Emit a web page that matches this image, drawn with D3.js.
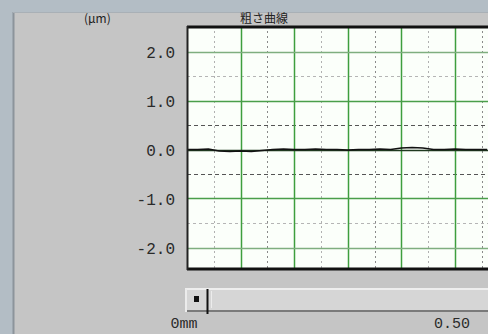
<!DOCTYPE html>
<html>
    <head>
        <meta charset="utf-8">
        <title>粗さ曲線</title>
        <style>
body {
    margin: 0;
    background: #b3bdc5;
}
svg {
    display: block;
}
.lbl {
    font-family: "Liberation Mono", "DejaVu Sans Mono", monospace;
    font-size: 16px;
    fill: #2a2a2a;
}
.title {
    font-family: "Noto Sans CJK JP", sans-serif;
    font-size: 12px;
    fill: #222;
}
        </style>
    </head>
    <body>
        <div id="chart"></div>
        <script src="https://d3js.org/d3.v7.min.js"></script>
        <script>

// values
const yTicks = [2.0, 1.0, 0.0, -1.0, -2.0]
const yTickLabels = ["2.0", "1.0", "0.0", "-1.0", "-2.0"]
const yHalf = [1.5, 0.5, -0.5, -1.5]
const xMajor = [0.1, 0.2, 0.3, 0.4, 0.5]
const xMinor = [0.05, 0.15, 0.25, 0.35, 0.45, 0.55]
const xLabels = ["0mm", "0.50"]
const xLabelPos = [0, 0.5]
const unitLabel = "(μm)"
const title = "粗さ曲線"

// trace, x in mm, height in μm (hugs zero)
const traceX = [0, 0.02, 0.04, 0.06, 0.08, 0.10, 0.12, 0.14, 0.16, 0.18, 0.20, 0.22,
    0.24, 0.26, 0.28, 0.30, 0.32, 0.34, 0.36, 0.38, 0.40, 0.42, 0.44, 0.46, 0.48, 0.50, 0.52, 0.54, 0.56]
const traceY = [0.0, 0.0, 0.01, -0.03, -0.04, -0.03, -0.04, -0.02, 0.0, 0.01, 0.0, 0.0,
    0.01, 0.0, 0.0, -0.01, 0.0, 0.0, 0.01, 0.0, 0.03, 0.04, 0.03, 0.0, 0.0, 0.01, 0.0, 0.0, 0.0]

const W = 488, H = 334
const plot = {left: 187, top: 26, right: 490, bottom: 270}

const svg = d3.select("#chart").append("svg")
    .attr("width", W)
    .attr("height", H)

// panel
svg.append("rect").attr("x", 0).attr("y", 0).attr("width", W).attr("height", H).attr("fill", "#b3bdc5")
svg.append("rect").attr("x", 13).attr("y", 12).attr("width", W).attr("height", H).attr("fill", "#c5c5c5")
svg.append("line").attr("x1", 13.5).attr("x2", 13.5).attr("y1", 12).attr("y2", H)
    .attr("stroke", "#8c949b").attr("stroke-width", 2)
svg.append("line").attr("x1", 13).attr("x2", W).attr("y1", 12.5).attr("y2", 12.5)
    .attr("stroke", "#a9b0b6").attr("stroke-width", 1)

// header texts
svg.append("text").attr("class", "title").attr("x", 84).attr("y", 23).text(unitLabel)
svg.append("text").attr("class", "title").attr("x", 240).attr("y", 23).text(title)

const x = d3.scaleLinear().domain([0, 0.5]).range([187, 455])
const y = d3.scaleLinear().domain([-2.5, 2.5]).range([272, 27])

svg.append("defs").append("clipPath").attr("id", "clip")
    .append("rect")
    .attr("x", plot.left).attr("y", plot.top)
    .attr("width", plot.right - plot.left).attr("height", plot.bottom - plot.top)

const g = svg.append("g").attr("clip-path", "url(#clip)")

g.append("rect")
    .attr("x", plot.left).attr("y", plot.top)
    .attr("width", plot.right - plot.left).attr("height", plot.bottom - plot.top)
    .attr("fill", "#fbfffa")

// minor verticals
g.selectAll(".vminor").data(xMinor).enter().append("line")
    .attr("x1", d => Math.round(x(d)) + 0.5).attr("x2", d => Math.round(x(d)) + 0.5)
    .attr("y1", plot.top).attr("y2", plot.bottom)
    .attr("stroke", (d, i) => i % 2 ? "#8a8a8a" : "#b0b0b0")
    .attr("stroke-dasharray", "2,3")

// half-unit horizontals
g.selectAll(".hminor").data(yHalf).enter().append("line")
    .attr("x1", plot.left).attr("x2", plot.right)
    .attr("y1", d => Math.round(y(d)) + 0.5).attr("y2", d => Math.round(y(d)) + 0.5)
    .attr("stroke", d => Math.abs(d) < 1 ? "#555" : "#b5b5b5")
    .attr("stroke-dasharray", d => Math.abs(d) < 1 ? "4,3" : "3,3")

// major verticals
g.selectAll(".vmajor").data(xMajor).enter().append("line")
    .attr("x1", d => Math.round(x(d)) + 0.5).attr("x2", d => Math.round(x(d)) + 0.5)
    .attr("y1", plot.top).attr("y2", plot.bottom)
    .attr("stroke", "#3e9e3e").attr("stroke-width", 1.5)

// major horizontals
g.selectAll(".hmajor").data(yTicks).enter().append("line")
    .attr("x1", plot.left).attr("x2", plot.right)
    .attr("y1", d => Math.round(y(d)) + 0.5).attr("y2", d => Math.round(y(d)) + 0.5)
    .attr("stroke", d => d === 0 ? "#1f3a1f" : Math.abs(d) === 2 ? "#7fae7f" : "#4a9e4a")
    .attr("stroke-width", 1.5)

// trace
g.append("path")
    .datum(traceX.map((v, i) => [v, traceY[i]]))
    .attr("fill", "none")
    .attr("stroke", "#111")
    .attr("stroke-width", 1.6)
    .attr("d", d3.line().x(d => x(d[0])).y(d => y(d[1])))

// frame
svg.append("line").attr("x1", plot.left).attr("x2", W).attr("y1", plot.top + 1).attr("y2", plot.top + 1)
    .attr("stroke", "#111").attr("stroke-width", 3)
svg.append("line").attr("x1", plot.left).attr("x2", W).attr("y1", plot.bottom - 1).attr("y2", plot.bottom - 1)
    .attr("stroke", "#111").attr("stroke-width", 3)
svg.append("line").attr("x1", plot.left + 0.5).attr("x2", plot.left + 0.5).attr("y1", plot.top).attr("y2", plot.bottom)
    .attr("stroke", "#222").attr("stroke-width", 2)

// y axis labels
svg.append("g")
    .attr("transform", "translate(" + (plot.left - 12) + ",0)")
    .call(d3.axisLeft(y).tickValues(yTicks).tickSize(0).tickFormat((d, i) => yTickLabels[i]))
    .call(a => a.select(".domain").remove())
    .selectAll("text")
        .attr("class", "lbl")
        .attr("x", 0)
        .attr("dy", "0.35em")
        .style("font-family", null).style("font-size", null)
        .attr("fill", "#2a2a2a")

// scrollbar
const sb = svg.append("g")
sb.append("rect").attr("x", 185).attr("y", 288).attr("width", W - 185).attr("height", 24).attr("fill", "#d6d6d6")
sb.append("line").attr("x1", 185).attr("x2", W).attr("y1", 289).attr("y2", 289).attr("stroke", "#eeeeee").attr("stroke-width", 2)
sb.append("line").attr("x1", 185).attr("x2", W).attr("y1", 311).attr("y2", 311).attr("stroke", "#7a7a7a").attr("stroke-width", 2)
sb.append("line").attr("x1", 186).attr("x2", 186).attr("y1", 289).attr("y2", 312).attr("stroke", "#ececec").attr("stroke-width", 2)
sb.append("rect").attr("x", 194).attr("y", 296).attr("width", 5).attr("height", 6).attr("fill", "#111")
sb.append("line").attr("x1", 207.5).attr("x2", 207.5).attr("y1", 289).attr("y2", 314).attr("stroke", "#111").attr("stroke-width", 2)
sb.append("line").attr("x1", 211.5).attr("x2", 211.5).attr("y1", 291).attr("y2", 308).attr("stroke", "#ececec").attr("stroke-width", 1)

// x labels
svg.selectAll(".xl").data(xLabels).enter().append("text")
    .attr("class", "lbl")
    .attr("x", (d, i) => x(xLabelPos[i]) - 3)
    .attr("y", 328)
    .attr("text-anchor", "middle")
    .style("font-size", "15px")
    .text(d => d)
        </script>
    </body>
</html>
